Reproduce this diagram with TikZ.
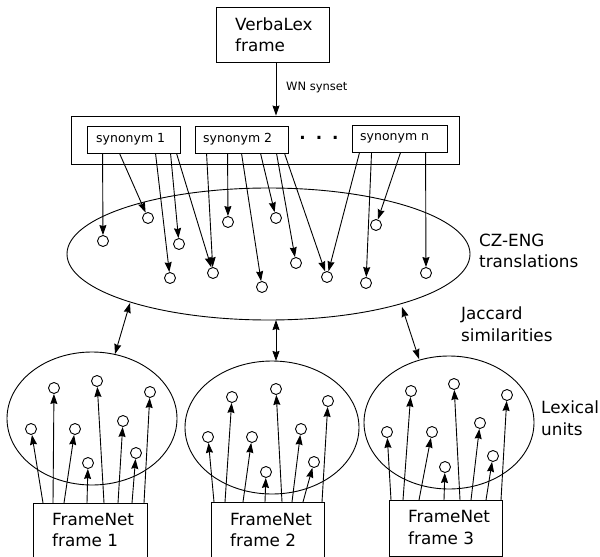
\documentclass[tikz,border=0pt]{standalone}
\usepackage{fontspec}
\setmainfont{DejaVu Sans}
\usetikzlibrary{arrows.meta,shapes.geometric}
\newcommand\lblfont{\fontsize{16.8bp}{21.5bp}\selectfont}
\newcommand\synfont{\fontsize{12.5bp}{15bp}\selectfont}
\newcommand\wnfont{\fontsize{11.5bp}{14bp}\selectfont}
\begin{document}
\begin{tikzpicture}[x=1bp,y=-1bp,
  lw/.style={line width=0.9bp},
  boxst/.style={draw,lw,rectangle,inner sep=0},
  txt/.style={inner sep=0,align=left,anchor=west,font=\lblfont},
  lu/.style={circle,draw,lw,minimum size=11bp,inner sep=0},
  ell/.style={ellipse,draw,lw,inner sep=0},
  tip/.tip={Stealth[length=10bp,width=7bp,inset=1bp]},
  arr/.style={lw,-tip},
  darr/.style={lw,tip-tip}]
\useasboundingbox (0,0) rectangle (600,557);
% top box
\node[boxst,minimum width=113bp,minimum height=55bp] (vl) at (272.5,34.5) {};
\node[txt] (vltxt) at (235,34.5) {VerbaLex\\frame};
% synset box
\node[boxst,minimum width=388bp,minimum height=48bp] (syn) at (265,140) {};
\draw[arr] (vl.south -| 276,0) -- (syn.north -| 276,0);
\node[inner sep=0,anchor=west,font=\wnfont] (wn) at (286,88) {WN synset};
\node[boxst,minimum width=93bp,minimum height=27bp] (s1) at (133.5,139.5) {};
\node[inner sep=0,anchor=west,font=\synfont] (s1t) at (96,139.5) {synonym 1};
\node[boxst,minimum width=93bp,minimum height=27bp] (s2) at (241.5,139.5) {};
\node[inner sep=0,anchor=west,font=\synfont] (s2t) at (203,139.5) {synonym 2};
\node[boxst,minimum width=95bp,minimum height=27bp] (sn) at (399.5,138.5) {};
\node[inner sep=0,anchor=west,font=\synfont] (snt) at (360,138.5) {synonym n};
\node[inner sep=0,font=\lblfont\bfseries] (dots) at (319,138) {.\hspace{10bp}.\hspace{10bp}.};
% CZ-ENG ellipse
\node[ell,minimum width=403bp,minimum height=132bp] (cz) at (268.5,254) {};
\node[txt] (czl) at (479,251) {CZ-ENG\\translations};
\node[lu] (c1) at (103,241) {};
\node[lu] (c2) at (148,218) {};
\node[lu] (c3) at (179,244) {};
\node[lu] (c4) at (170,278) {};
\node[lu] (c5) at (213,273) {};
\node[lu] (c6) at (228,222) {};
\node[lu] (c7) at (262,287) {};
\node[lu] (c8) at (276,218) {};
\node[lu] (c9) at (296,263) {};
\node[lu] (c10) at (327,277) {};
\node[lu] (c11) at (366,283) {};
\node[lu] (c12) at (376,225) {};
\node[lu] (c13) at (426,273) {};
\draw[arr] ([xshift=16bp]s1.south west) -- (c1);
\draw[arr] ([xshift=33bp]s1.south west) -- (c2);
\draw[arr] ([xshift=69bp]s1.south west) -- (c4);
\draw[arr] ([xshift=84bp]s1.south west) -- (c3);
\draw[arr] ([xshift=90bp]s1.south west) -- (c5);
\draw[arr] ([xshift=12bp]s2.south west) -- (c5);
\draw[arr] ([xshift=33bp]s2.south west) -- (c6);
\draw[arr] ([xshift=47bp]s2.south west) -- (c7);
\draw[arr] ([xshift=66bp]s2.south west) -- (c8);
\draw[arr] ([xshift=82bp]s2.south west) -- (c9);
\draw[arr] ([xshift=90bp]s2.south west) -- (c10);
\draw[arr] ([xshift=8bp]sn.south west) -- (c10);
\draw[arr] ([xshift=20bp]sn.south west) -- (c11);
\draw[arr] ([xshift=49bp]sn.south west) -- (c12);
\draw[arr] ([xshift=74bp]sn.south west) -- (c13);
% Jaccard
\node[txt] (jac) at (461,324) {Jaccard\\similarities};
\node[txt] (lex) at (541,418) {Lexical\\units};
% lower ellipses
\node[ell,minimum width=170bp,minimum height=133bp] (e1) at (92,418.5) {};
\node[ell,minimum width=174bp,minimum height=133bp] (e2) at (272,427.5) {};
\node[ell,minimum width=170bp,minimum height=133bp] (e3) at (449,422.5) {};
\coordinate (j1a) at (130,303); \coordinate (j1b) at (115,354);
\coordinate (j2a) at (276,320); \coordinate (j2b) at (276,361);
\coordinate (j3a) at (402,307); \coordinate (j3b) at (419,359);
\draw[darr] (j1a) -- (j1b);
\draw[darr] (j2a) -- (j2b);
\draw[darr] (j3a) -- (j3b);
% FrameNet boxes
\node[boxst,minimum width=114bp,minimum height=56bp,anchor=north west] (f1) at (33,503) {};
\node[txt] (f1t) at (52,530) {FrameNet\\frame 1};
\node[boxst,minimum width=113bp,minimum height=57bp,anchor=north west] (f2) at (211,502) {};
\node[txt] (f2t) at (230,530) {FrameNet\\frame 2};
\node[boxst,minimum width=113bp,minimum height=56bp,anchor=north west] (f3) at (389,500) {};
\node[txt] (f3t) at (408,527.5) {FrameNet\\frame 3};
% LU circles frame 1
\node[lu] (a1) at (31,429) {};
\node[lu] (a2) at (54,388) {};
\node[lu] (a3) at (75,429) {};
\node[lu] (a4) at (88,463) {};
\node[lu] (a5) at (97,381) {};
\node[lu] (a6) at (123,421) {};
\node[lu] (a7) at (136,453) {};
\node[lu] (a8) at (150,392) {};
\draw[arr] ([xshift=10bp]f1.north west) -- (a1);
\draw[arr] ([xshift=20bp]f1.north west) -- (a2);
\draw[arr] ([xshift=31bp]f1.north west) -- (a3);
\draw[arr] ([xshift=54bp]f1.north west) -- (a4);
\draw[arr] ([xshift=71bp]f1.north west) -- (a5);
\draw[arr] ([xshift=85bp]f1.north west) -- (a6);
\draw[arr] ([xshift=99bp]f1.north west) -- (a7);
\draw[arr] ([xshift=111bp]f1.north west) -- (a8);
% frame 2
\node[lu] (b1) at (208,437) {};
\node[lu] (b2) at (232,397) {};
\node[lu] (b3) at (252,437) {};
\node[lu] (b4) at (266,472) {};
\node[lu] (b5) at (276,389) {};
\node[lu] (b6) at (301,429) {};
\node[lu] (b7) at (314,462) {};
\node[lu] (b8) at (328,401) {};
\draw[arr] ([xshift=3bp]f2.north west) -- (b1);
\draw[arr] ([xshift=14bp]f2.north west) -- (b2);
\draw[arr] ([xshift=32bp]f2.north west) -- (b3);
\draw[arr] ([xshift=54bp]f2.north west) -- (b4);
\draw[arr] ([xshift=71bp]f2.north west) -- (b5);
\draw[arr] ([xshift=81bp]f2.north west) -- (b6);
\draw[arr] ([xshift=92bp]f2.north west) -- (b7);
\draw[arr] ([xshift=111bp]f2.north west) -- (b8);
% frame 3
\node[lu] (d1) at (387,432) {};
\node[lu] (d2) at (411,391) {};
\node[lu] (d3) at (432,432) {};
\node[lu] (d4) at (445,467) {};
\node[lu] (d5) at (454,384) {};
\node[lu] (d6) at (480,423) {};
\node[lu] (d7) at (493,456) {};
\node[lu] (d8) at (507,395) {};
\draw[arr] ([xshift=2bp]f3.north west) -- (d1);
\draw[arr] ([xshift=14bp]f3.north west) -- (d2);
\draw[arr] ([xshift=30bp]f3.north west) -- (d3);
\draw[arr] ([xshift=55bp]f3.north west) -- (d4);
\draw[arr] ([xshift=71bp]f3.north west) -- (d5);
\draw[arr] ([xshift=82bp]f3.north west) -- (d6);
\draw[arr] ([xshift=97bp]f3.north west) -- (d7);
\draw[arr] ([xshift=112bp]f3.north west) -- (d8);
\end{tikzpicture}
\end{document}
